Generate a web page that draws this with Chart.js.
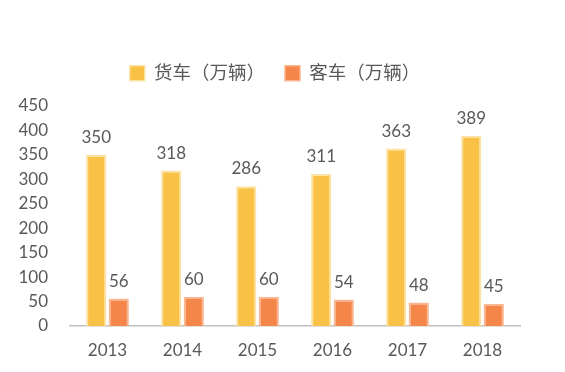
<!DOCTYPE html>
<html>
<head>
<meta charset="utf-8">
<script src="https://cdn.jsdelivr.net/npm/chart.js@4/dist/chart.umd.min.js"></script>
<style>
html,body{margin:0;padding:0;background:#fff;}
#wrap{width:565px;height:372px;position:relative;}
</style>
</head>
<body>
<div id="wrap"><canvas id="c" width="565" height="372"></canvas></div>
<script>
const categories = ['2013', '2014', '2015', '2016', '2017', '2018'];
const seriesNames = ['货车（万辆）', '客车（万辆）'];
const trucks = [350, 318, 286, 311, 363, 389];
const buses = [56, 60, 60, 54, 48, 45];
const yTicks = [0, 50, 100, 150, 200, 250, 300, 350, 400, 450];

const FONT = "'Lato','Noto Sans CJK SC',sans-serif";
const TEXT = '#595959';

const valueLabels = {
  id: 'valueLabels',
  afterDatasetsDraw(chart) {
    const ctx = chart.ctx;
    ctx.save();
    ctx.font = "17px " + FONT;
    ctx.fillStyle = TEXT;
    ctx.textAlign = 'center';
    ctx.textBaseline = 'alphabetic';
    chart.data.datasets.forEach((ds, i) => {
      chart.getDatasetMeta(i).data.forEach((bar, j) => {
        ctx.fillText(String(ds.data[j]), bar.x, bar.y - 12);
      });
    });
    ctx.restore();
  }
};

const legendBox = {
  id: 'legendBox',
  beforeInit(chart) {
    const fit = chart.legend.fit;
    chart.legend.fit = function () { fit.bind(chart.legend)(); this.height = 62; };
  },
  afterLayout(chart) {
    chart.legend.left += 8;
    chart.legend.right += 8;
  }
};

new Chart(document.getElementById('c'), {
  type: 'bar',
  data: {
    labels: categories,
    datasets: [
      { label: seriesNames[0], data: trucks, backgroundColor: '#F9C247', borderColor: '#FCE2A2', borderWidth: 2, categoryPercentage: 0.6, barPercentage: 0.9 },
      { label: seriesNames[1], data: buses, backgroundColor: '#F4864A', borderColor: '#F9B690', borderWidth: 2, categoryPercentage: 0.6, barPercentage: 0.9 }
    ]
  },
  options: {
    responsive: false,
    animation: false,
    layout: { padding: { top: 44, left: 14, right: 45, bottom: 10 } },
    plugins: {
      legend: {
        position: 'top',
        labels: {
          font: { size: 18.5, family: FONT },
          color: TEXT,
          boxWidth: 15,
          boxHeight: 15,
          padding: 20,
          generateLabels(chart) {
            return chart.data.datasets.map((ds, i) => ({
              text: ds.label, fillStyle: ds.backgroundColor, strokeStyle: ds.borderColor,
              lineWidth: 1.5, datasetIndex: i, fontColor: TEXT
            }));
          }
        }
      },
      tooltip: { enabled: false }
    },
    scales: {
      x: {
        afterFit(axis) { axis.height = 36; },
        grid: { display: false, drawTicks: false },
        border: { display: true, color: '#BFBFBF', width: 1.5 },
        ticks: { color: TEXT, font: { size: 17, family: FONT }, padding: 14 }
      },
      y: {
        min: 0, max: 450,
        afterBuildTicks(axis) { axis.ticks = yTicks.map(v => ({ value: v })); },
        afterFit(axis) { axis.width = 56; },
        grid: { display: false, drawTicks: false },
        border: { display: false },
        ticks: { color: TEXT, font: { size: 17, family: FONT }, padding: 22, autoSkip: false }
      }
    }
  },
  plugins: [valueLabels, legendBox]
});
</script>
</body>
</html>
